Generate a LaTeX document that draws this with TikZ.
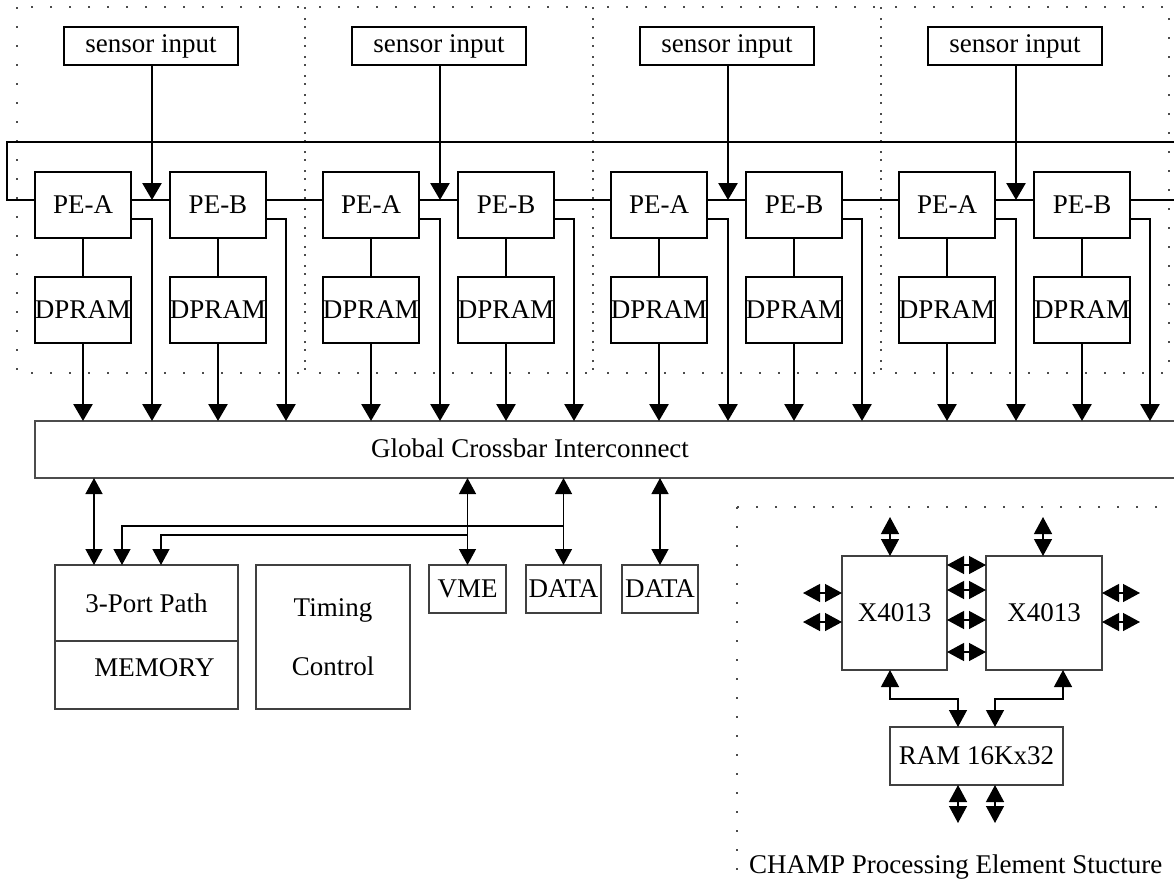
\documentclass[tikz,border=0pt]{standalone}
\usepackage{fontspec}
\setmainfont{Liberation Serif}
\usetikzlibrary{arrows.meta,positioning,calc}

\begin{document}
\begin{tikzpicture}[
  x=1pt, y=-1pt,
  font=\fontsize{27}{31}\selectfont,
  pe/.style={draw, line width=2.7pt, minimum width=96pt, minimum height=66pt, inner sep=0pt, outer sep=0pt},
  sensor/.style={draw, line width=2.7pt, minimum width=174pt, minimum height=38pt, inner sep=1pt, outer sep=0pt},
  box/.style={draw=black!75, line width=1.6pt, inner sep=0pt, outer sep=0pt},
  arrow/.style={-{Triangle[width=19pt,length=17pt]}, line width=2.7pt},
  link/.style={line width=1.3pt},
  bus/.style={-{Triangle[width=17pt,length=16pt]}, line width=1.3pt},
  dbus/.style={{Triangle[width=17pt,length=16pt]}-{Triangle[width=17pt,length=16pt]}, line width=1.3pt},
  pin/.style={{Triangle[width=18pt,length=17pt]}-{Triangle[width=18pt,length=17pt]}, line width=1.3pt},
  module/.style={draw=black!70, dash pattern=on 2pt off 17pt, line width=1.5pt},
]

\path[use as bounding box, clip] (0,0) rectangle (1174,886);

\node[box, draw=black!70, line width=1.8pt, minimum width=1170pt, minimum height=57pt, anchor=north west] (xbar) at (35,421) {};
\node (xbartext) at (530,448) {Global Crossbar Interconnect};

\foreach \i in {1,...,4} {
  \pgfmathtruncatemacro\o{288*(\i-1)}
  \draw[module] (17+\o,7) rectangle (305+\o,373);
  \node[sensor] (sens\i) at (151+\o,46) {sensor input};
  \node[pe] (pea\i) at (83+\o,205) {PE-A};
  \node[pe, right=39pt of pea\i] (peb\i) {PE-B};
  \node[pe, below=39pt of pea\i] (dpa\i) {DPRAM};
  \node[pe, below=39pt of peb\i] (dpb\i) {DPRAM};
  \coordinate (j\i) at (152+\o,200);
  \coordinate (oa\i) at (152+\o,219);
  \coordinate (ob\i) at (286+\o,219);

  \draw[line width=2pt] (pea\i.east |- j\i) -- (peb\i.west |- j\i);
  \draw[arrow] (sens\i.south -| j\i) -- (j\i);
  \draw[line width=2.7pt] (pea\i) -- (dpa\i);
  \draw[line width=2.7pt] (peb\i) -- (dpb\i);
  \draw[arrow] (dpa\i) -- (dpa\i |- xbar.north);
  \draw[arrow] (dpb\i) -- (dpb\i |- xbar.north);
  \draw[arrow] (pea\i.east |- oa\i) -- (oa\i) -- (oa\i |- xbar.north);
  \draw[arrow] (peb\i.east |- ob\i) -- (ob\i) -- (ob\i |- xbar.north);
}

\coordinate (ringleft) at (7,142);
\coordinate (ringright) at (1180,142);
\coordinate (ringend) at (1180,200);
\draw[link] (pea1.west |- j1) -| (ringleft) -- (ringright);
\foreach \i/\j in {1/2,2/3,3/4}
  \draw[link] (peb\i.east |- j\i) -- (pea\j.west |- j\j);
\draw[link] (peb4.east |- j4) -- (ringend);

\node[box, minimum width=183pt, minimum height=76pt] (port) at (146.5,603) {3-Port Path};
\node[box, minimum width=183pt, minimum height=68pt, below=0pt of port] (mem) {\hspace*{16pt}\raisebox{14pt}{MEMORY}};
\node[box, minimum width=154pt, minimum height=144pt, align=center] (timing) at (333,637) {Timing\\[28pt]Control};
\node[box, minimum width=77pt, minimum height=48pt] (vme) at (467.5,589) {VME};
\node[box, minimum width=75pt, minimum height=48pt] (data1) at (563.5,589) {DATA};
\node[box, minimum width=76pt, minimum height=48pt] (data2) at (660,589) {DATA};

\coordinate (mp1) at (94,565);
\coordinate (mp2) at (122,565);
\coordinate (mp3) at (161,565);
\coordinate (tapd) at (563.5,526);
\coordinate (tapv) at (467.5,535);

\draw[dbus] (mp1 |- xbar.south) -- (mp1);
\draw[dbus] (vme.north |- xbar.south) -- (vme.north);
\draw[dbus] (data1.north |- xbar.south) -- (data1.north);
\draw[dbus] (data2.north |- xbar.south) -- (data2.north);
\draw[bus] (tapd) -| (mp2);
\draw[bus] (tapv) -| (mp3);

\draw[module] (737,507) rectangle (1200,900);
\node[box, minimum width=105pt, minimum height=114pt] (xa) at (894.5,613) {X4013};
\node[box, minimum width=116pt, minimum height=114pt] (xb) at (1044,613) {X4013};
\node[box, minimum width=173pt, minimum height=58pt] (ram) at (976.5,756) {RAM 16Kx32};
\node[anchor=west, inner sep=0pt] (caption) at (749,867) {CHAMP Processing Element Stucture};

\draw[pin] ([xshift=-4.5pt]xa.north) -- ++(0,-39);
\draw[pin] ([xshift=-1pt]xb.north) -- ++(0,-39);
\draw[pin] ([yshift=20pt]xa.west) -- ++(-39,0);
\draw[pin] ([yshift=-9pt]xa.west) -- ++(-39,0);
\foreach \s in {48,23,-7,-39}
  \draw[pin] ([yshift=\s pt]xa.east) -- ([yshift=\s pt]xb.west);
\draw[pin] ([yshift=20pt]xb.east) -- ++(38,0);
\draw[pin] ([yshift=-9pt]xb.east) -- ++(38,0);
\draw[pin] ([xshift=-4.5pt]xa.south) -- ++(0,29) -| ([xshift=-18.5pt]ram.north);
\draw[pin] ([xshift=19pt]xb.south) -- ++(0,29) -| ([xshift=18.5pt]ram.north);
\draw[pin] ([xshift=-18.5pt]ram.south) -- ++(0,38);
\draw[pin] ([xshift=18.5pt]ram.south) -- ++(0,38);

\end{tikzpicture}
\end{document}
